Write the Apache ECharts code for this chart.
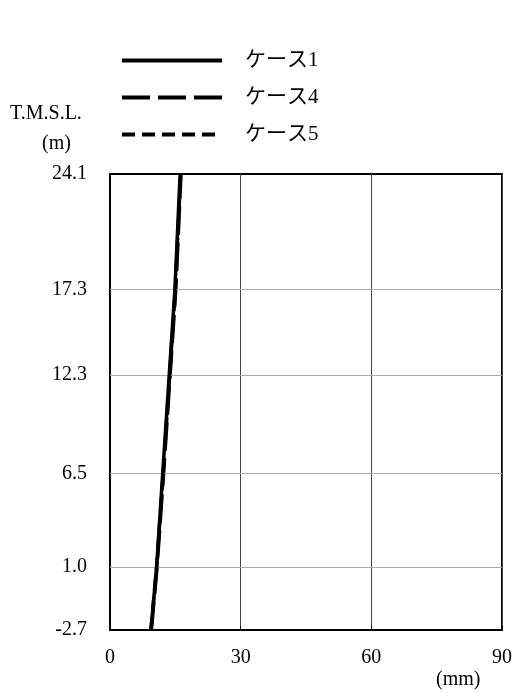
<!DOCTYPE html>
<html><head><meta charset="utf-8">
<script src="https://cdn.jsdelivr.net/npm/echarts@6/dist/echarts.min.js"></script>
<style>html,body{margin:0;padding:0;background:#fff}#c{width:516px;height:693px}</style>
</head><body><div id="c"></div>
<script>
const levels = [-2.7, 1.0, 6.5, 12.3, 17.3, 24.1];
const case1 = [9.4, 10.7, 12.1, 13.6, 14.9, 16.1];
const case4 = [9.5, 10.8, 12.3, 13.8, 15.1, 16.3];
const case5 = [9.4, 10.7, 12.2, 13.7, 15.0, 16.2];
const xTicks = [0, 30, 60, 90];
const seriesNames = ['ケース1', 'ケース4', 'ケース5'];

const FONT = "'Liberation Serif', 'Noto Sans CJK JP', serif";
const chart = echarts.init(document.getElementById('c'), null, {renderer: 'canvas'});
function pts(xs) { return xs.map((x, i) => [x, levels[i]]); }
const dashes = ['solid', [28, 8], [13, 7]];
const datas = [case1, case4, case5];
const series = seriesNames.map((n, i) => ({
  name: n, type: 'line', data: pts(datas[i]), symbol: 'none', showSymbol: false, smooth: false,
  lineStyle: {color: '#000', width: 3.5, type: dashes[i]}, itemStyle: {color: '#000'},
  z: 5 - i,
  markLine: i === 0 ? {
    silent: true, symbol: 'none', label: {show: false},
    lineStyle: {color: '#aaa', width: 1, type: 'solid'},
    data: levels.slice(1, -1).map(v => ({yAxis: v}))
  } : undefined
}));
chart.setOption({
  animation: false,
  grid: {left: 110, right: 14, top: 174, bottom: 63, show: true, borderColor: '#000', borderWidth: 2, containLabel: false},
  legend: {
    orient: 'vertical', left: 120, top: 50, padding: 0, itemWidth: 100, itemHeight: 16, itemGap: 16,
    data: seriesNames,
    itemStyle: {opacity: 0},
    lineStyle: {width: 4},
    textStyle: {fontFamily: FONT, fontSize: 21, lineHeight: 16, color: '#000', padding: [0, 0, 0, 18]}
  },
  xAxis: {
    type: 'value', min: 0, max: 90, interval: 30,
    axisLine: {show: true, onZero: false, lineStyle: {color: '#000', width: 2}},
    axisTick: {show: true, inside: true, length: 4, lineStyle: {color: '#000', width: 1}},
    splitLine: {show: true, lineStyle: {color: '#444', width: 1}},
    axisLabel: {fontFamily: FONT, fontSize: 20, color: '#000', margin: 18,
      customValues: xTicks}
  },
  yAxis: {
    type: 'value', min: -2.7, max: 24.1,
    axisLine: {show: true, onZero: false, lineStyle: {color: '#000', width: 2}},
    axisTick: {show: false},
    splitLine: {show: false},
    axisLabel: {fontFamily: FONT, fontSize: 20, color: '#000', margin: 23,
      customValues: levels, formatter: v => v.toFixed(1)}
  },
  graphic: [
    {type: 'text', left: 10, top: 104, style: {text: 'T.M.S.L.', font: "20px " + FONT, fill: '#000'}},
    {type: 'text', left: 42, top: 134, style: {text: '(m)', font: "20px " + FONT, fill: '#000'}},
    {type: 'text', left: 436, top: 670, style: {text: '(mm)', font: "20px " + FONT, fill: '#000'}}
  ],
  series: series
});
</script></body></html>
